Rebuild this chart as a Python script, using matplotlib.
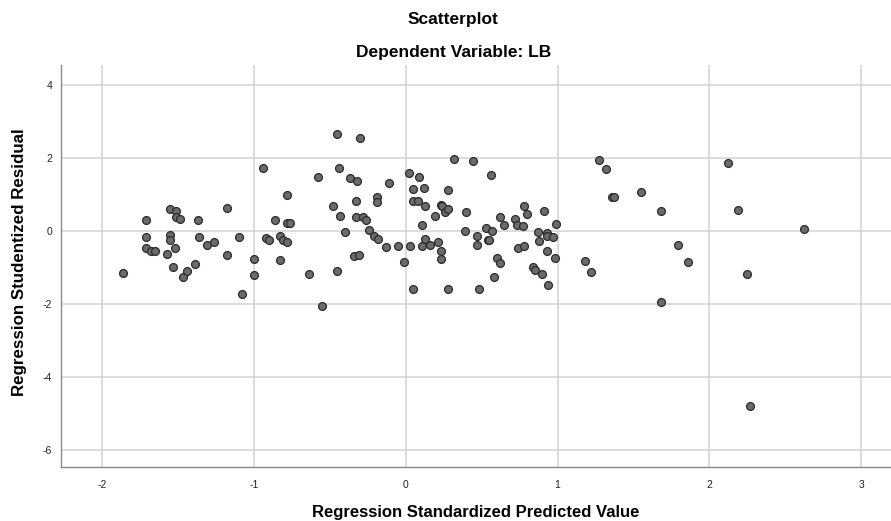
import matplotlib
matplotlib.use('Agg')
import matplotlib.pyplot as plt

# Regression Standardized Predicted Value
pred = [-1.86, -1.71, -1.71, -1.71, -1.68, -1.65, -1.55, -1.51, -1.51, -1.49,
        -1.55, -1.55, -1.52, -1.57, -1.53, -1.47, -1.44, -1.39, -1.37, -1.36,
        -1.31, -1.26, -1.18, -1.18, -1.10, -1.08, -1.00, -1.00, -0.94, -0.92,
        -0.90, -0.86,
        -0.83, -0.81, -0.78, -0.83, -0.78, -0.78, -0.76, -0.64, -0.58, -0.55,
        -0.48, -0.45, -0.45, -0.44, -0.43, -0.40, -0.37, -0.32, -0.33, -0.33,
        -0.30, -0.34, -0.31, -0.28, -0.26, -0.24, -0.21, -0.18, -0.19, -0.19,
        -0.11, -0.13, -0.05, -0.01, 0.02, 0.03, 0.05, 0.05, 0.05, 0.08,
        0.09, 0.11, 0.12, 0.13, 0.13, 0.11, 0.16, 0.19, 0.21, 0.23,
        0.23, 0.23, 0.24, 0.26, 0.28, 0.28, 0.28, 0.32, 0.40, 0.39,
        0.44, 0.47, 0.47, 0.48,
        0.53, 0.54, 0.55, 0.57, 0.56, 0.58, 0.60, 0.62, 0.62, 0.65,
        0.72, 0.73, 0.77, 0.74, 0.78, 0.78, 0.80, 0.84, 0.85, 0.87,
        0.88, 0.90, 0.91, 0.93, 0.93, 0.93, 0.94, 0.97, 0.98, 0.99,
        1.18, 1.22, 1.27, 1.32, 1.36, 1.37, 1.55,
        1.68, 1.68, 1.79, 1.86, 2.12, 2.19, 2.25, 2.62, 2.27]

# Regression Studentized Residual
resid = [-1.15, 0.29, -0.18, -0.47, -0.55, -0.54, 0.60, 0.55, 0.37, 0.33,
         -0.10, -0.24, -0.46, -0.63, -0.98, -1.26, -1.10, -0.92, 0.31, -0.18,
         -0.38, -0.31, 0.62, -0.65, -0.16, -1.74, -0.78, -1.21, 1.73, -0.19,
         -0.25, 0.30,
         -0.14, -0.24, -0.30, -0.79, 0.99, 0.22, 0.22, -1.18, 1.49, -2.07,
         0.68, 2.65, -1.11, 1.72, 0.40, -0.04, 1.46, 1.36, 0.81, 0.39,
         2.55, -0.69, -0.65, 0.37, 0.30, 0.03, -0.14, -0.23, 0.92, 0.79,
         1.32, -0.45, -0.42, -0.84, 1.59, -0.40, -1.60, 1.16, 0.82, 0.82,
         1.49, 0.15, 1.18, 0.67, -0.23, -0.42, -0.39, 0.42, -0.30, -0.54,
         -0.77, 0.70, 0.69, 0.52, 0.61, 1.12, -1.60, 1.98, 0.52, 0.01,
         1.91, -0.14, -0.38, -1.60,
         0.09, -0.24, -0.26, 0.01, 1.52, -1.26, -0.74, -0.89, 0.39, 0.16,
         0.34, 0.15, 0.13, -0.48, -0.42, 0.67, 0.46, -1.00, -1.06, -0.03,
         -0.28, -1.19, 0.55, -0.07, -0.14, -0.56, -1.48, -0.17, -0.74, 0.18,
         -0.82, -1.12, 1.94, 1.69, 0.94, 0.92, 1.07,
         0.54, -1.95, -0.38, -0.85, 1.87, 0.57, -1.18, 0.04, -4.79]

x_ticks = [-2, -1, 0, 1, 2, 3]
y_ticks = [-6, -4, -2, 0, 2, 4]

plt.rcParams['font.family'] = ['Liberation Sans', 'DejaVu Sans']
plt.rcParams['axes.unicode_minus'] = False

fig = plt.figure(figsize=(8.91, 5.21), dpi=100)
ax = fig.add_axes([60.5 / 891, 54.5 / 521, 830.5 / 891, 401.5 / 521])

ax.scatter(pred, resid, s=32, facecolor='#6b6b6b', edgecolor='#2b2b2b',
           linewidth=0.9, zorder=3)

ax.set_xlim(-2.274, 3.196)
ax.set_ylim(-6.46, 4.55)
ax.set_xticks(x_ticks)
ax.set_yticks(y_ticks)
ax.tick_params(length=0, labelsize=7.5, labelcolor='#222222')
ax.tick_params(axis='x', pad=10)
ax.tick_params(axis='y', pad=6)

ax.grid(True, color='#d2d2d2', linewidth=1.1, zorder=0)
ax.set_axisbelow(True)
for side in ['top', 'right']:
    ax.spines[side].set_visible(False)
for side in ['left', 'bottom']:
    ax.spines[side].set_color('#8a8a8a')
    ax.spines[side].set_linewidth(1.0)

ax.set_xlabel('Regression Standardized Predicted Value', fontsize=12,
              fontweight='bold', va='center')
ax.xaxis.set_label_coords(0.5, (466.5 - 512) / 401.5)
ax.set_ylabel('Regression Studentized Residual', fontsize=12.2,
              fontweight='bold', va='center')
ax.yaxis.set_label_coords((20 - 60.5) / 830.5, (466.5 - 262.5) / 401.5)

fig.text(453.5 / 891, 1 - 19.7 / 521, 'Scatterplot', ha='center',
         va='center', fontsize=12.5, fontweight='bold')
fig.text(453.5 / 891, 1 - 53 / 521, 'Dependent Variable: LB', ha='center',
         va='center', fontsize=12.5, fontweight='bold')

fig.savefig('out.png', dpi=100, facecolor='white')
plt.close(fig)
